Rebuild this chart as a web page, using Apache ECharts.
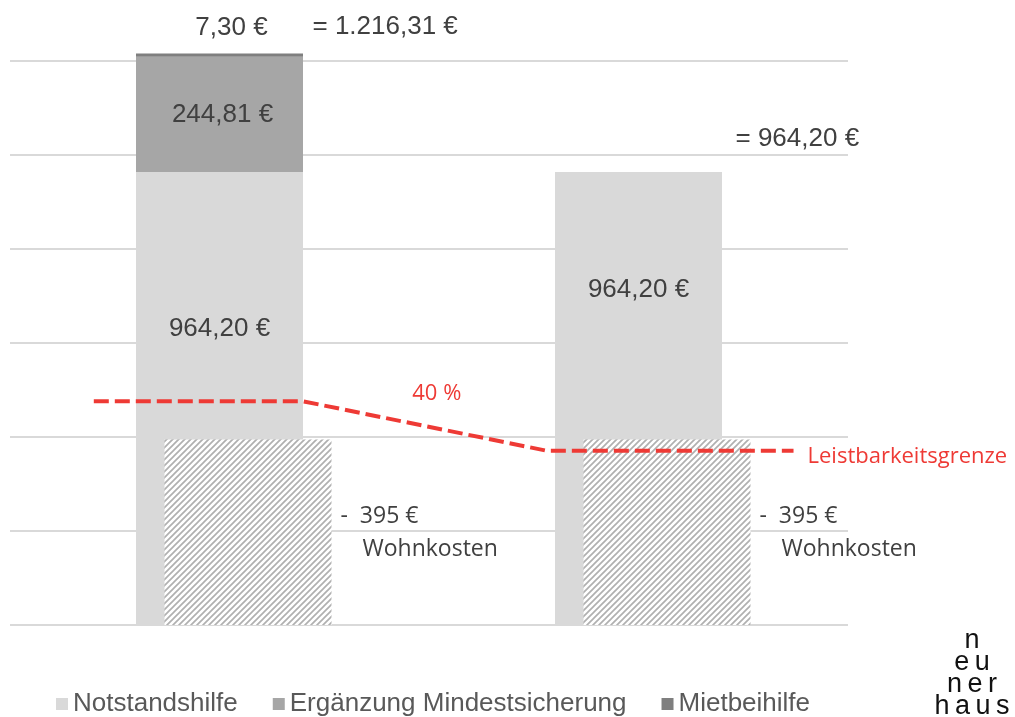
<!DOCTYPE html>
<html>
<head>
<meta charset="utf-8">
<script src="https://cdn.jsdelivr.net/npm/echarts@6/dist/echarts.min.js"></script>
<style>
html,body{margin:0;padding:0;background:#fff;}
#c{width:1015px;height:717px;}
</style>
</head>
<body>
<div id="c"></div>
<script>
// ---- data ----
const categories = ['Notstandshilfe mit Ergänzung', 'Notstandshilfe'];
const seriesNames = ['Notstandshilfe', 'Ergänzung Mindestsicherung', 'Mietbeihilfe'];
const notstandshilfe = [964.20, 964.20];
const ergaenzung = [244.81, 0];
const mietbeihilfe = [7.30, 0];
const totals = [1216.31, 964.20];
const wohnkosten = [395, 395];
const wohnkostenLabel = 'Wohnkosten';
// Leistbarkeitsgrenze (40 %), x in category units
const grenzeX = [-0.3, 0.2, 0.78, 1.37];
const grenzeY = [476, 476, 371, 371];
const grenzeName = 'Leistbarkeitsgrenze';
const grenzeLabel = '40 %';
const yMin = 0, yMax = 1330, yInterval = 200;
const logoLines = ['n', 'eu', 'ner', 'haus'];

// ---- helpers ----
function fmt(v) {
  const parts = v.toFixed(2).split('.');
  parts[0] = parts[0].replace(/\B(?=(\d{3})+(?!\d))/g, '.');
  return parts[0] + ',' + parts[1] + ' €';
}
const LABEL_FONT = 'Liberation Sans';
const LABEL_COLOR = '#404040';
const RED = '#ee3a35';

// hatch pattern
const pc = document.createElement('canvas');
pc.width = 6; pc.height = 6;
const ctx = pc.getContext('2d');
ctx.fillStyle = '#ffffff';
ctx.fillRect(0, 0, 6, 6);
ctx.strokeStyle = '#b0b0b0';
ctx.lineWidth = 1.7;
ctx.beginPath();
ctx.moveTo(0, 6); ctx.lineTo(6, 0);
ctx.moveTo(-1, 1); ctx.lineTo(1, -1);
ctx.moveTo(5, 7); ctx.lineTo(7, 5);
ctx.stroke();

const chart = echarts.init(document.getElementById('c'), null, {renderer: 'canvas'});

const barLabel = {
  show: true, fontFamily: LABEL_FONT, fontSize: 26, color: LABEL_COLOR,
  formatter: p => (p.value ? fmt(p.value) : '')
};

const nsOffsets = [[0, -70], [0, -109]];
const totalOffsets = [[88, -27], [92, -33]];

const option = {
  animation: false,
  backgroundColor: '#ffffff',
  grid: {left: 10, right: 167, top: 0, bottom: 92, containLabel: false},
  legend: {
    data: seriesNames,
    left: 56, top: 691, padding: 0,
    itemWidth: 12, itemHeight: 12, itemGap: 35,
    icon: 'rect',
    textStyle: {fontFamily: LABEL_FONT, fontSize: 26, color: '#595959'}
  },
  xAxis: [
    {type: 'category', data: categories, axisLine: {show: false}, axisTick: {show: false}, axisLabel: {show: false}},
    {type: 'value', min: -0.5, max: 1.5, show: false}
  ],
  yAxis: {
    type: 'value', min: yMin, max: yMax, interval: yInterval,
    axisLabel: {show: false}, axisLine: {show: false}, axisTick: {show: false},
    splitLine: {show: true, showMaxLine: false, lineStyle: {color: '#d9d9d9', width: 2}}
  },
  graphic: [{
    type: 'text', x: 972, y: 630, z: 100,
    style: {
      text: logoLines.map(s => s.split('').join('\u2009')).join('\n'),
      fontFamily: LABEL_FONT, fontSize: 27, lineHeight: 22,
      fill: '#111111', align: 'center', verticalAlign: 'top'
    }
  }],
  series: [
    {
      name: seriesNames[0], type: 'bar', stack: 'a', barWidth: 167,
      itemStyle: {color: '#d9d9d9'},
      data: notstandshilfe.map((v, i) => ({value: v, label: {offset: nsOffsets[i]}})),
      label: Object.assign({}, barLabel, {position: 'inside'})
    },
    {
      name: seriesNames[1], type: 'bar', stack: 'a', barWidth: 167,
      itemStyle: {color: '#a6a6a6'},
      data: ergaenzung,
      label: Object.assign({}, barLabel, {position: 'inside', offset: [3, 0]})
    },
    {
      name: seriesNames[2], type: 'bar', stack: 'a', barWidth: 167,
      itemStyle: {color: '#7f7f7f'},
      data: mietbeihilfe,
      label: Object.assign({}, barLabel, {position: 'top', offset: [12, -8]})
    },
    {
      name: 'Summe', type: 'scatter', symbolSize: 0, silent: true,
      itemStyle: {opacity: 1},
      data: totals.map((v, i) => ({
        value: [i, v],
        label: {offset: totalOffsets[i]}
      })),
      label: {
        show: true, position: 'right', distance: 5, align: 'left',
        fontFamily: LABEL_FONT, fontSize: 26, color: LABEL_COLOR, opacity: 1,
        formatter: p => '= ' + fmt(p.value[1])
      },
      z: 5
    },
    {
      name: wohnkostenLabel, type: 'custom', z: 3,
      data: wohnkosten.map((v, i) => [i, v]),
      renderItem: function (params, api) {
        const x = api.value(0), v = api.value(1);
        const p0 = api.coord([x, 0]);
        const p1 = api.coord([x, v]);
        const band = api.size([1, 0])[0];
        const w = 167;
        const off = band * 0.068;
        const left = p0[0] - w / 2 + off;
        const right = left + w;
        return {
          type: 'group',
          children: [
            {type: 'rect', shape: {x: left, y: p1[1], width: w, height: p0[1] - p1[1]},
             style: {fill: {image: pc, repeat: 'repeat'}}},
            {type: 'text', x: right + 9, y: p0[1] - 109,
             style: {text: '-  ' + v + ' €', fontFamily: 'Open Sans', fontSize: 23, fill: LABEL_COLOR,
                     align: 'left', verticalAlign: 'middle'}},
            {type: 'text', x: right + 31, y: p0[1] - 76,
             style: {text: wohnkostenLabel, fontFamily: 'Open Sans', fontSize: 23, fill: LABEL_COLOR,
                     align: 'left', verticalAlign: 'middle'}}
          ]
        };
      }
    },
    {
      name: grenzeName, type: 'line', xAxisIndex: 1, z: 10,
      symbol: 'none', silent: true,
      data: grenzeX.map((x, i) => [x, grenzeY[i]]),
      lineStyle: {color: RED, width: 4, type: [15, 6]},
      endLabel: {
        show: true, formatter: grenzeName, distance: 14, offset: [0, 6],
        fontFamily: 'Open Sans', fontSize: 22, color: RED
      },
      markPoint: {
        symbolSize: 0, silent: true,
        data: [{
          coord: [(grenzeX[1] + grenzeX[2]) / 2, (grenzeY[1] + grenzeY[2]) / 2],
          value: grenzeLabel
        }],
        label: {
          show: true, position: 'inside', offset: [12, -32], formatter: grenzeLabel,
          fontFamily: 'Open Sans', fontSize: 22, color: RED
        }
      }
    }
  ]
};
chart.setOption(option);
</script>
</body>
</html>
